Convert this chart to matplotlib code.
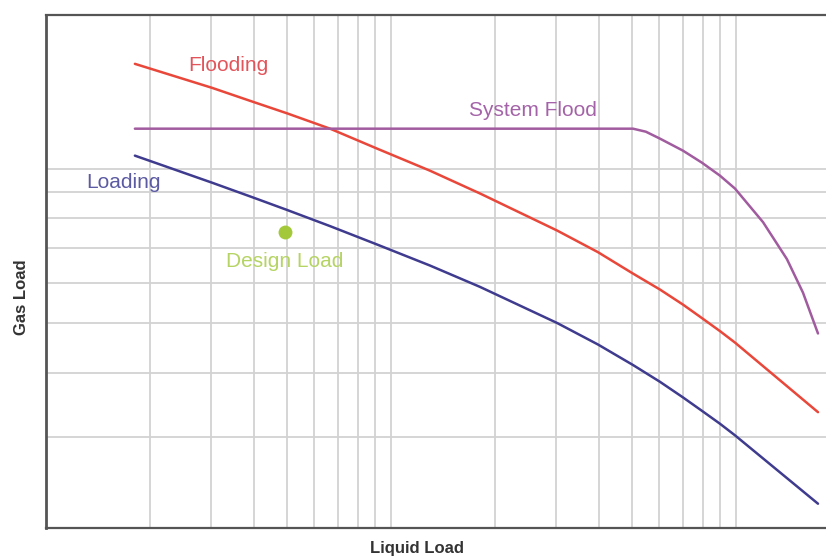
import matplotlib.pyplot as plt
from matplotlib.ticker import LogLocator, NullFormatter

# curves (log-log, no tick labels in the original)
flood_x = [1.81, 3.03, 3.98, 5.0, 6.66, 9.11, 12.97, 18.1, 30.3, 39.8, 50.3,
           60.2, 70.2, 79.7, 89.9, 99.3, 172.9]
flood_y = [15.99, 14.36, 13.49, 12.81, 11.96, 10.94, 9.91, 8.95, 7.58, 6.88, 6.25,
           5.82, 5.44, 5.12, 4.83, 4.59, 3.36]

load_x = [1.81, 3.03, 3.98, 5.0, 6.66, 9.11, 12.97, 18.1, 30.3, 39.8, 50.3,
          60.2, 70.2, 79.7, 89.9, 99.3, 172.9]
load_y = [10.60, 9.39, 8.79, 8.31, 7.73, 7.12, 6.48, 5.89, 5.01, 4.55, 4.15,
          3.85, 3.59, 3.38, 3.19, 3.03, 2.23]

sysflood_x = [1.81, 50.3, 54.8, 60.2, 70.2, 79.7, 89.9, 99.3, 119.8, 140.5, 156.4, 172.9]
sysflood_y = [11.96, 11.96, 11.80, 11.44, 10.84, 10.27, 9.69, 9.15, 7.87, 6.67, 5.74, 4.78]

design_x = [4.93]
design_y = [7.52]

plt.rcParams['font.family'] = ['Liberation Sans', 'DejaVu Sans']

fig = plt.figure(figsize=(8.26, 5.57), dpi=100)
ax = fig.add_axes([46/826, 29/557, 1 - 46/826, 513/557])

ax.set_xscale('log')
ax.set_yscale('log')
ax.set_xlim(1, 182.4)
ax.set_ylim(2, 19.9)

# grid on every decade subdivision, no tick marks or labels
ax.xaxis.set_major_locator(LogLocator(base=10, subs=range(1, 10)))
ax.yaxis.set_major_locator(LogLocator(base=10, subs=range(1, 10)))
ax.xaxis.set_minor_locator(LogLocator(base=10, subs=[]))
ax.yaxis.set_minor_locator(LogLocator(base=10, subs=[]))
ax.xaxis.set_major_formatter(NullFormatter())
ax.yaxis.set_major_formatter(NullFormatter())
ax.xaxis.set_minor_formatter(NullFormatter())
ax.yaxis.set_minor_formatter(NullFormatter())
ax.tick_params(which='both', length=0)
ax.grid(True, which='major', color='#d2d2d2', lw=1.3)
ax.set_axisbelow(True)

for s in ['top', 'bottom']:
    ax.spines[s].set_color('#555555')
    ax.spines[s].set_linewidth(1.6)
ax.spines['left'].set_color('#555555')
ax.spines['left'].set_linewidth(2)
ax.spines['right'].set_visible(False)

ax.plot(flood_x, flood_y, color='#e8473a', lw=1.8, solid_capstyle='round', solid_joinstyle='round')
ax.plot(load_x, load_y, color='#3f3b8e', lw=1.8, solid_capstyle='round', solid_joinstyle='round')
ax.plot(sysflood_x, sysflood_y, color='#a15b9f', lw=1.8, solid_capstyle='round', solid_joinstyle='round')
ax.plot(design_x, design_y, 'o', color='#a3c93a', ms=10, mec='none')

ax.text(3.37, 15.9, 'Flooding', color='#e2545a', fontsize=15, ha='center', va='center')
ax.text(25.8, 13.0, 'System Flood', color='#a463a8', fontsize=15, ha='center', va='center')
ax.text(1.68, 9.4, 'Loading', color='#5c5aa2', fontsize=15, ha='center', va='center')
ax.text(4.93, 6.6, 'Design Load', color='#b5d463', fontsize=15, ha='center', va='center')

fig.text(417/826, 1 - 548/557, 'Liquid Load', fontsize=12, fontweight='bold',
         color='#333333', ha='center', va='center')
fig.text(22/826, 1 - 297/557, 'Gas Load', fontsize=12, fontweight='bold',
         color='#333333', ha='center', va='center', rotation=90)

plt.savefig('out.png', dpi=100)
